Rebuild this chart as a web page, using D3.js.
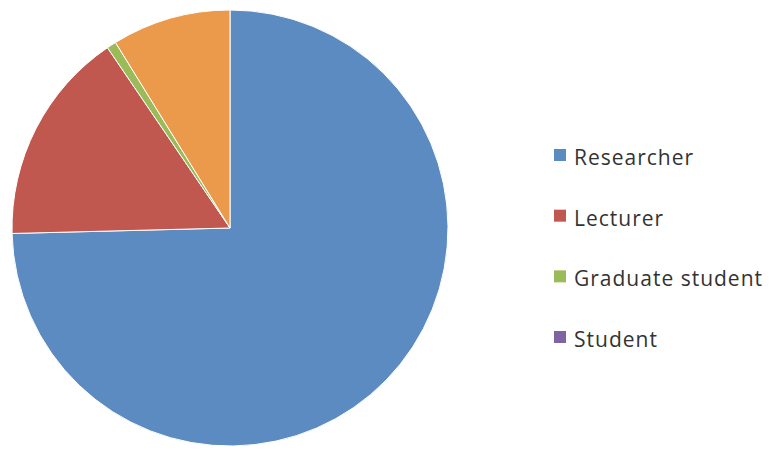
<!DOCTYPE html>
<html>
<head>
<meta charset="utf-8">
<script src="https://cdn.jsdelivr.net/npm/d3@7"></script>
<style>
  html, body { margin: 0; padding: 0; background: #fff; }
  svg { display: block; }
</style>
</head>
<body>
<svg id="chart" width="771" height="449"></svg>
<script>
// Share of respondents by position (percent)
const categories = ["Researcher", "Lecturer", "Graduate student", "Student", "Other"];
const values = [74.6, 15.9, 0.7, 0.0, 8.8];
const colors = ["#5b8bc0", "#c0584f", "#9bbb59", "#8064a2", "#eb9a4b"];
const legendItems = ["Researcher", "Lecturer", "Graduate student", "Student"];

const svg = d3.select("#chart");
const cx = 230, cy = 228, radius = 218;

const data = categories.map((c, i) => ({ name: c, value: values[i] }));
const color = d3.scaleOrdinal().domain(categories).range(colors);

const pie = d3.pie().sort(null).value(d => d.value);
const arc = d3.arc().innerRadius(0).outerRadius(radius);

svg.append("g")
  .attr("transform", `translate(${cx},${cy})`)
  .selectAll("path")
  .data(pie(data).filter(d => d.data.value > 0))
  .join("path")
  .attr("d", arc)
  .attr("fill", d => color(d.data.name))
  .attr("stroke", "#ffffff")
  .attr("stroke-width", 1);

// Legend
const legend = svg.append("g").attr("transform", "translate(554,149)");
const row = d3.scalePoint().domain(legendItems).range([0, 182]);

const item = legend.selectAll("g")
  .data(legendItems)
  .join("g")
  .attr("transform", d => `translate(0,${row(d)})`);

item.append("rect")
  .attr("width", 12)
  .attr("height", 12)
  .attr("fill", d => color(d));

item.append("text")
  .attr("x", 20)
  .attr("y", 16)
  .attr("font-family", "'Open Sans', sans-serif")
  .attr("font-size", 21)
  .attr("letter-spacing", 1)
  .attr("fill", "#333")
  .text(d => d);
</script>
</body>
</html>
